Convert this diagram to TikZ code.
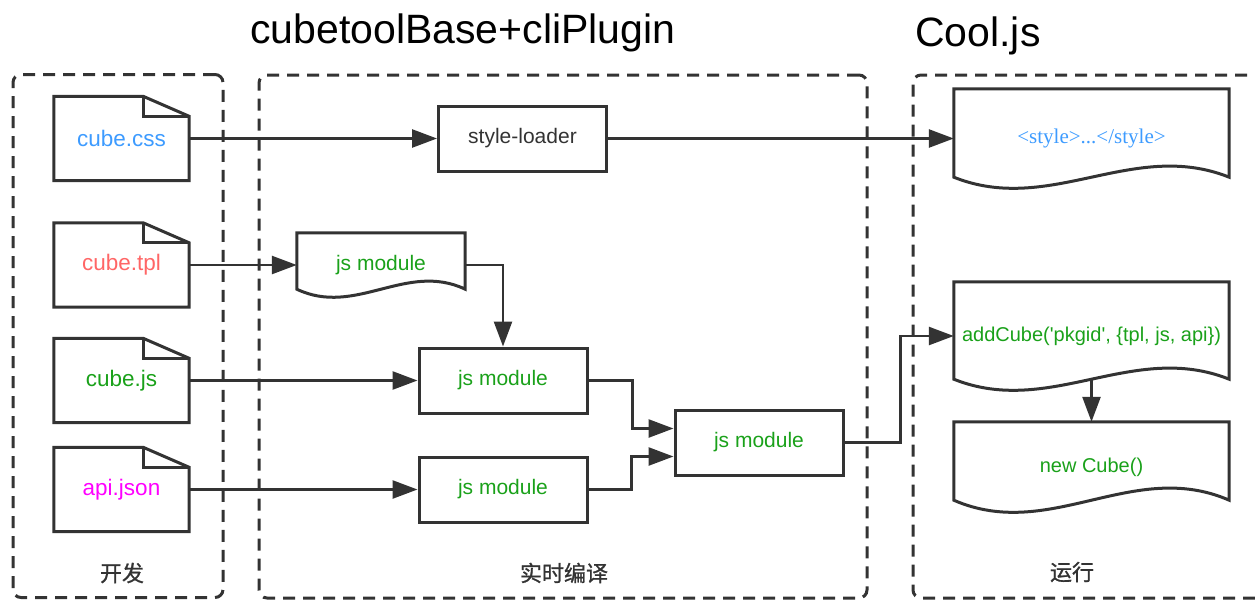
\documentclass[tikz,border=0pt]{standalone}
\usepackage{fontspec}
\setmainfont{Liberation Sans}
\newfontfamily\cjkfont[FakeBold=1]{Noto Sans CJK SC}
\newfontfamily\serifont{Liberation Serif}
\usetikzlibrary{arrows.meta, calc, positioning}
\definecolor{lineGray}{HTML}{333333}
\definecolor{cssBlue}{HTML}{3D9BFF}
\definecolor{tplRed}{HTML}{FF6666}
\definecolor{jsGreen}{HTML}{1AA11A}
\definecolor{apiPink}{HTML}{FF00FF}
\tikzset{
    fileNode/.style={rectangle, minimum width=135pt, minimum height=84pt, inner sep=0pt, font=\fontsize{22.5}{26}\selectfont},
    modNode/.style={rectangle, draw=lineGray, line width=3pt, minimum width=168pt, minimum height=65pt, inner sep=0pt, text=jsGreen, font=\fontsize{21}{25}\selectfont},
    wavyNode/.style={rectangle, minimum width=275pt, inner sep=0pt, text=jsGreen, font=\fontsize{20}{24}\selectfont},
    boxLine/.style={draw=lineGray, line width=3pt},
    groupBox/.style={rectangle, draw=lineGray, line width=3pt, dash pattern=on 12pt off 8pt, rounded corners=8pt, minimum height=523pt, inner sep=0pt},
    groupLabel/.style={text=lineGray, font=\cjkfont\fontsize{22}{26}\selectfont},
    titleText/.style={text=black, inner sep=0pt, font=\fontsize{41}{48}\selectfont},
    flowEdge/.style={-{Triangle[length=25pt,width=18pt]}, draw=lineGray, line width=2.6pt},
}
\newcommand{\drawFile}[1]{
    % 折角的文件外框
    \draw[boxLine] (#1.south west) -- (#1.north west) -- ([xshift=-46pt]#1.north east)
        -- ([yshift=-20pt]#1.north east) -- (#1.south east) -- cycle;
    % 折角
    \draw[boxLine] ([xshift=-46pt]#1.north east) |- ([yshift=-20pt]#1.north east);
}
\newcommand{\drawWavy}[2]{
    % 下边为波浪线的文档,#2 为波浪深度
    \draw[boxLine] ($(#1.south west)+(0pt,#2pt)$) -- (#1.north west) -- (#1.north east)
        -- ($(#1.south east)+(0pt,#2pt)$)
        .. controls ($(#1.south west)!0.65!(#1.south east)+(0pt,4.5*#2pt)$)
        and ($(#1.south west)!0.35!(#1.south east)+(0pt,-2.5*#2pt)$) .. cycle;
}

\begin{document}
\begin{tikzpicture}[x=1pt, y=-1pt]
    \useasboundingbox (0,0) rectangle (1255,600);

    \node[groupBox, minimum width=210pt] (devGroup) at (118, 336) {};
    \node[groupBox, minimum width=608pt] (buildGroup) at (563, 336.5) {};
    \node[groupBox, minimum width=362pt] (runGroup) at (1094, 336.5) {};
    \node[groupLabel] (devLabel) at (122, 573) {开发};
    \node[groupLabel] (buildLabel) at (564, 573) {实时编译};
    \node[groupLabel] (runLabel) at (1072, 572) {运行};

    \node[titleText, anchor=base west] (buildTitle) at (250, 43) {cubetoolBase+cliPlugin};
    \node[titleText, anchor=base west] (runTitle) at (915, 46) {Cool.js};

    \node[fileNode, text=cssBlue] (cssFile) at (121.5, 138.5) {cube.css};
    \node[fileNode, text=tplRed] (tplFile) at (121.5, 265) {cube.tpl};
    \node[fileNode, text=jsGreen] (jsFile) at (121.5, 380.5) {cube.js};
    \node[fileNode, text=apiPink] (apiFile) at (121.5, 489.5) {api.json};
    \drawFile{cssFile}
    \drawFile{tplFile}
    \drawFile{jsFile}
    \drawFile{apiFile}

    \node[modNode, text=lineGray] (styleLoader) at (522.5, 138.5) {style-loader};
    \node[wavyNode, minimum width=168pt, minimum height=64pt, font=\fontsize{21}{25}\selectfont] (tplModule) at (381, 265) {js module};
    \node[modNode] (jsModule) at (503, 380.5) {js module};
    \node[modNode] (apiModule) at (503, 489.5) {js module};
    \node[modNode] (cubeModule) at (759, 442.5) {js module};
    \drawWavy{tplModule}{8}

    \node[wavyNode, minimum height=99pt, text=cssBlue, font=\serifont\fontsize{21}{25}\selectfont] (styleTag) at (1091.5, 138.5) {<style>...</style>};
    \node[wavyNode, minimum height=108pt] (addCube) at (1091.5, 336) {addCube(\textquotesingle pkgid\textquotesingle, \{tpl, js, api\})};
    \node[wavyNode, minimum height=90pt] (newCube) at (1091.5, 467) {new Cube()};
    \drawWavy{styleTag}{11}
    \drawWavy{addCube}{11}
    \drawWavy{newCube}{12}

    \draw[flowEdge] (cssFile.east) -- (styleLoader.west);
    \draw[flowEdge] (styleLoader.east) -- (styleTag.west);
    \draw[flowEdge] (tplFile.east) -- (tplModule.west);
    \draw[flowEdge] (tplModule.east) -| (jsModule.north);
    \draw[flowEdge] (jsFile.east) -- (jsModule.west);
    \draw[flowEdge] (apiFile.east) -- (apiModule.west);
    \draw[flowEdge] (jsModule.east) -- ++(44,0) |- ([yshift=14pt]cubeModule.west);
    \draw[flowEdge] (apiModule.east) -- ++(43,0) |- ([yshift=-14pt]cubeModule.west);
    \draw[flowEdge] (cubeModule.east) -- ++(56,0) |- (addCube.west);
    \draw[flowEdge] ([yshift=11pt]addCube.south) -- (newCube.north);
\end{tikzpicture}
\end{document}
